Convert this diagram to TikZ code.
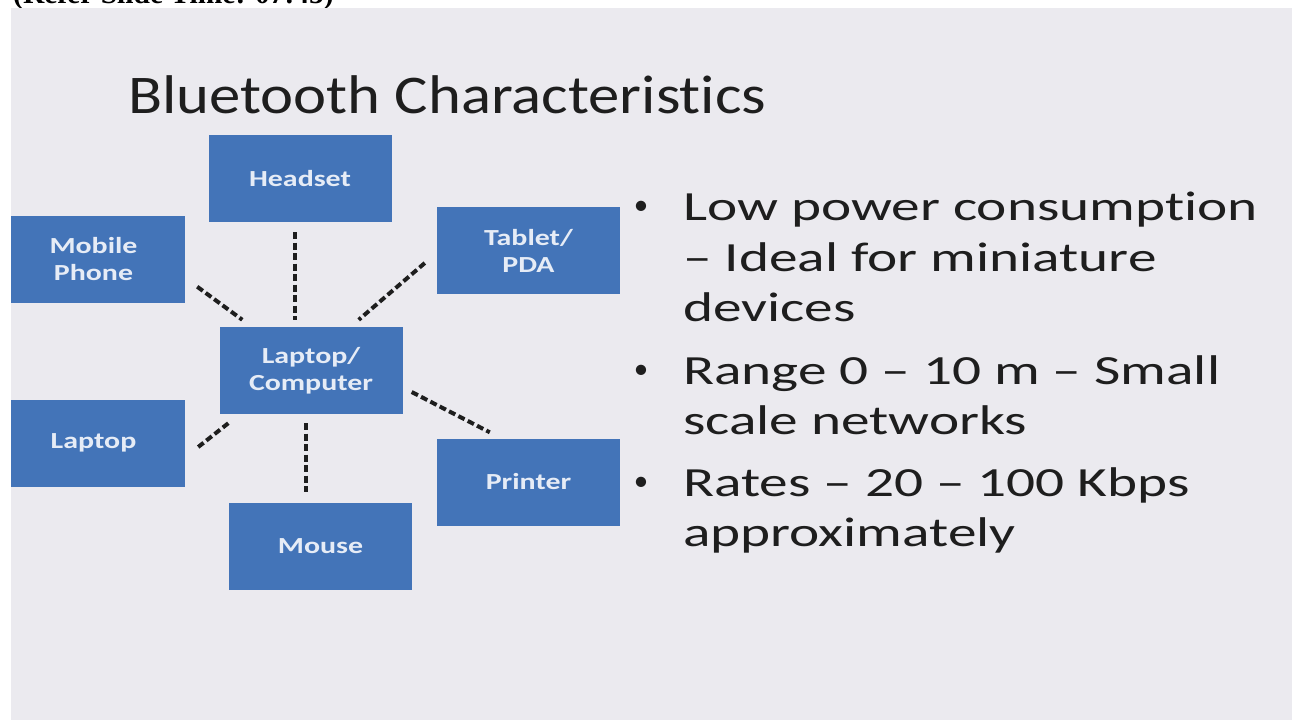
\documentclass[tikz,border=0pt]{standalone}
\usepackage{fontspec}
\setmainfont{Carlito}
\newfontfamily\titlefont[FakeStretch=1.15,Ligatures=NoCommon]{Carlito}
\newfontfamily\bodyfont[FakeStretch=1.38,Ligatures=NoCommon]{Carlito}
\newfontfamily\boxfont[FakeStretch=1.3,Ligatures=NoCommon]{Carlito}
\newfontfamily\capfont{Liberation Serif}
\usetikzlibrary{calc}
\definecolor{slidebg}{HTML}{EBEAEF}
\definecolor{boxblue}{HTML}{4374B8}
\definecolor{boxtext}{HTML}{E6ECF6}
\definecolor{ink}{HTML}{1E1E1E}
\begin{document}
\begin{tikzpicture}[x=1pt,y=-1pt,
  device/.style={fill=boxblue, draw=none, minimum width=183pt, minimum height=87pt,
    inner sep=0pt, align=center, text=boxtext,
    font=\boxfont\bfseries\fontsize{23}{27}\selectfont},
  link/.style={draw=ink, line width=4pt, dash pattern=on 7pt off 3.5pt},
  bodyline/.style={anchor=base west, inner sep=0pt, text=ink,
    font=\bodyfont\fontsize{41.5}{50}\selectfont},
  bulletmark/.style={anchor=base, inner sep=0pt, text=ink,
    font=\fontsize{29}{30}\selectfont}]
\useasboundingbox (0,0) rectangle (1295,720);
\fill[white] (0,0) rectangle (1295,720);
% caption strip above the slide
\begin{scope}
  \clip (0,0) rectangle (1295,8);
  \node[anchor=base west, inner sep=0pt, font=\capfont\bfseries\fontsize{29.5}{32}\selectfont]
    (cap) at (13,3) {(Refer Slide Time: 07:45)};
\end{scope}
% slide
\begin{scope}
  \clip (11,8) rectangle (1292,720);
  \fill[slidebg] (11,8) rectangle (1292,720);
  \node[anchor=base west, inner sep=0pt, text=ink,
    font=\titlefont\fontsize{54.5}{60}\selectfont] (title) at (128,113)
    {Bluetooth Characteristics};
  % devices
  \node[device] (hs)  at (300,178.5) {Headset};
  \node[device] (mob) at (93.5,259)  {Mobile\\Phone};
  \node[device] (tab) at (528.5,250.5) {Tablet/\\PDA};
  \node[device] (ctr) at (311,370.5) {Laptop/\\Computer};
  \node[device] (lap) at (93.5,443)  {Laptop};
  \node[device] (mou) at (320.5,546.5) {Mouse};
  \node[device] (prn) at (528.5,482) {Printer};
  % wireless links
  \draw[link] ([shift={(12,-16)}]mob.south east) -- ([shift={(23,-7)}]ctr.north west);
  \draw[link] ([shift={(-5,10)}]hs.south) -- ([shift={(-16,-7)}]ctr.north);
  \draw[link] ([shift={(-12,12.5)}]tab.west) -- ([shift={(-44,-7)}]ctr.north east);
  \draw[link] ([shift={(9,21.5)}]ctr.east) -- ([shift={(53,-6)}]prn.north west);
  \draw[link] ([shift={(9,9)}]ctr.south west) -- ([shift={(13,4)}]lap.east);
  \draw[link] ([shift={(-5,9)}]ctr.south) -- ([shift={(-14.5,-11)}]mou.north);
  % bullet list
  \node[bulletmark] (m1) at (641,214) {•};
  \node[bodyline] (l1) at (683,220) {Low power consumption};
  \node[bodyline] (l2) at (683,271) {– Ideal for miniature};
  \node[bodyline] (l3) at (683,321) {devices};
  \node[bulletmark] (m2) at (641,378) {•};
  \node[bodyline] (l4) at (683,384) {Range 0 – 10 m – Small};
  \node[bodyline] (l5) at (683,434) {scale networks};
  \node[bulletmark] (m3) at (641,490) {•};
  \node[bodyline] (l6) at (683,496) {Rates – 20 – 100 Kbps};
  \node[bodyline] (l7) at (683,546) {approximately};
\end{scope}
\end{tikzpicture}
\end{document}
